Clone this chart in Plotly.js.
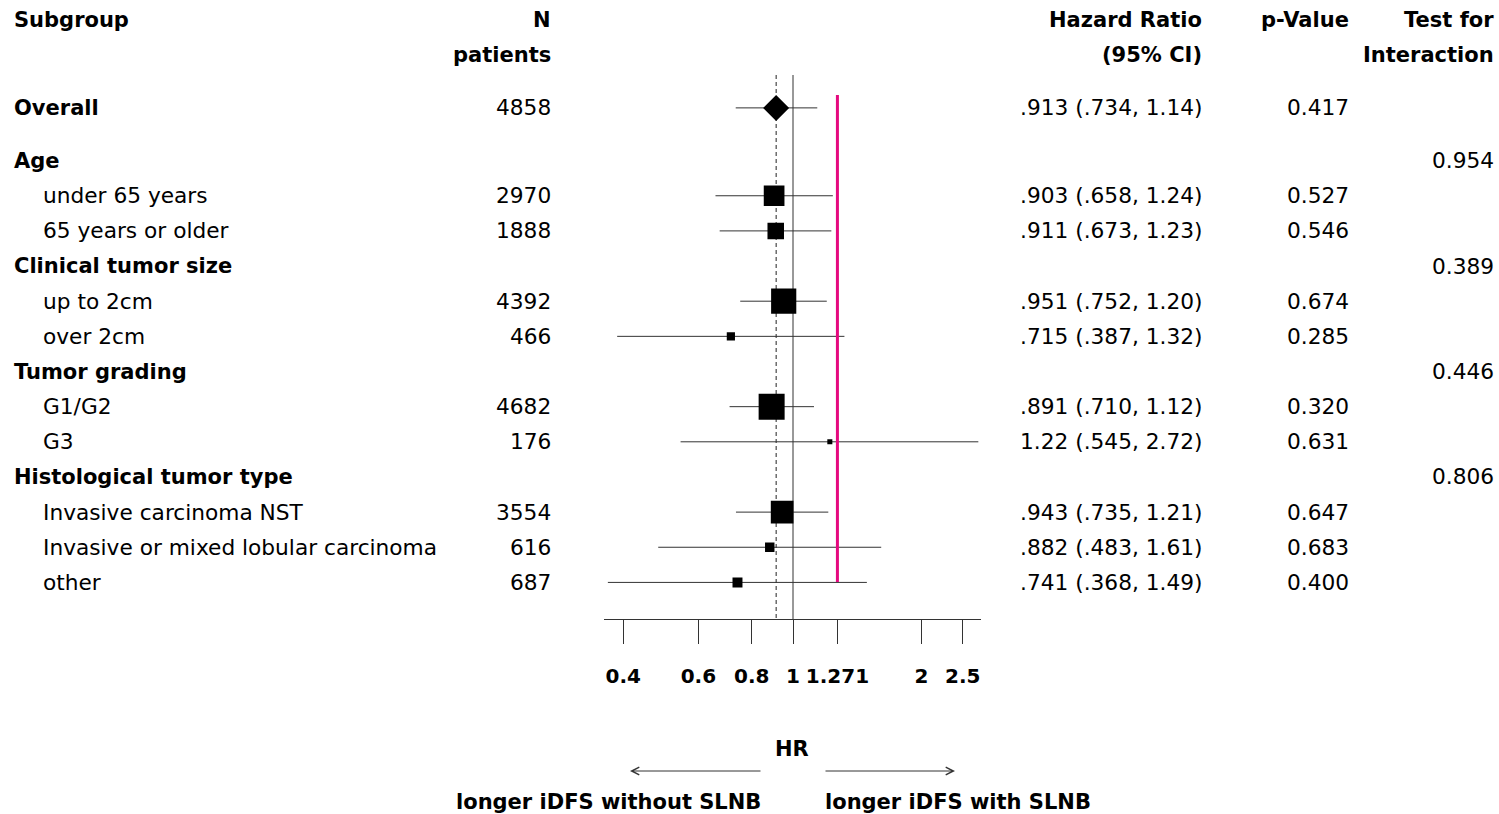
<!DOCTYPE html>
<html>
<head>
<meta charset="utf-8">
<script src="https://cdn.plot.ly/plotly-3.0.1.min.js"></script>
<style>
html, body { margin: 0; padding: 0; background: #ffffff; }
#chart { width: 1499px; height: 814px; }
</style>
</head>
<body>
<div id="chart"></div>
<script>
// ---------------- DATA ----------------
const subgroups = [
  'Overall',
  'Age', 'under 65 years', '65 years or older',
  'Clinical tumor size', 'up to 2cm', 'over 2cm',
  'Tumor grading', 'G1/G2', 'G3',
  'Histological tumor type', 'Invasive carcinoma NST', 'Invasive or mixed lobular carcinoma', 'other'
];
const isTopLevel = [true, true, false, false, true, false, false, true, false, false, true, false, false, false];
const nPatients = [4858, null, 2970, 1888, null, 4392, 466, null, 4682, 176, null, 3554, 616, 687];
const hazardRatio = [0.913, null, 0.903, 0.911, null, 0.951, 0.715, null, 0.891, 1.22, null, 0.943, 0.882, 0.741];
const ciLower = [0.734, null, 0.658, 0.673, null, 0.752, 0.387, null, 0.710, 0.545, null, 0.735, 0.483, 0.368];
const ciUpper = [1.14, null, 1.24, 1.23, null, 1.20, 1.32, null, 1.12, 2.72, null, 1.21, 1.61, 1.49];
const pValue = [0.417, null, 0.527, 0.546, null, 0.674, 0.285, null, 0.320, 0.631, null, 0.647, 0.683, 0.400];
const interactionP = [null, 0.954, null, null, 0.389, null, null, 0.446, null, null, 0.806, null, null, null];
const tickValues = [0.4, 0.6, 0.8, 1, 1.271, 2, 2.5];
const tickLabels = ['0.4', '0.6', '0.8', '1', '1.271', '2', '2.5'];
const marginHR = 1.271;

// ---------------- LAYOUT HELPERS ----------------
const W = 1499, H = 814;
const FONT = 'DejaVu Sans, Liberation Sans, Arial, sans-serif';
const FS_REG = 21.7;
const FS_BOLD = 21;
const rowPos = i => (i === 0 ? 2.5 : 3 + i);
const Y_TOP = -0.569, Y_BOTTOM = 17.041;
const px = v => v / W;
const py = v => (H - v) / H;

function fmtHR(v) {
  return v < 1 ? v.toFixed(3).replace(/^0/, '') : v.toFixed(2);
}

const annotations = [];
function addText(xPix, yVal, text, anchor, bold, yref) {
  annotations.push({
    xref: 'paper', yref: yref || 'y', x: px(xPix), y: yVal,
    text: text, showarrow: false, xanchor: anchor, yanchor: 'middle',
    borderpad: 0, borderwidth: 0,
    font: { family: FONT, size: bold ? FS_BOLD : FS_REG, color: '#000', weight: bold ? 'bold' : 'normal' }
  });
}

// column headers
addText(14, 0, 'Subgroup', 'left', true);
addText(551, 0, 'N', 'right', true);
addText(551, 1, 'patients', 'right', true);
addText(1202, 0, 'Hazard Ratio', 'right', true);
addText(1202, 1, '(95% CI)', 'right', true);
addText(1349, 0, 'p-Value', 'right', true);
addText(1494, 0, 'Test for', 'right', true);
addText(1494, 1, 'Interaction', 'right', true);

// rows
subgroups.forEach((s, i) => {
  const r = rowPos(i);
  addText(isTopLevel[i] ? 14 : 43, r, s, 'left', isTopLevel[i]);
  if (nPatients[i] != null) addText(551, r, String(nPatients[i]), 'right', false);
  if (hazardRatio[i] != null) {
    addText(1202, r, fmtHR(hazardRatio[i]) + ' (' + fmtHR(ciLower[i]) + ', ' + fmtHR(ciUpper[i]) + ')', 'right', false);
  }
  if (pValue[i] != null) addText(1349, r, pValue[i].toFixed(3), 'right', false);
  if (interactionP[i] != null) addText(1494, r, interactionP[i].toFixed(3), 'right', false);
});

// bottom labels
addText(792, py(749), 'HR', 'center', true, 'paper');
addText(761, py(802), 'longer iDFS without SLNB', 'right', true, 'paper');
addText(825, py(802), 'longer iDFS with SLNB', 'left', true, 'paper');
annotations.push({
  xref: 'paper', yref: 'paper', x: px(630), y: py(771), ax: 132, ay: 0,
  text: '', showarrow: true, arrowhead: 5, arrowsize: 1.5, arrowwidth: 1, arrowcolor: '#333'
});
annotations.push({
  xref: 'paper', yref: 'paper', x: px(955), y: py(771), ax: -131, ay: 0,
  text: '', showarrow: true, arrowhead: 5, arrowsize: 1.5, arrowwidth: 1, arrowcolor: '#333'
});

// ---------------- TRACES ----------------
const subIdx = hazardRatio.map((v, i) => i).filter(i => i > 0 && hazardRatio[i] != null);

const subTrace = {
  type: 'scatter', mode: 'markers',
  x: subIdx.map(i => hazardRatio[i]),
  y: subIdx.map(i => rowPos(i)),
  marker: { symbol: 'square', color: '#000', opacity: 1, size: subIdx.map(i => 0.38 * Math.sqrt(nPatients[i])), line: { width: 0 } },
  error_x: {
    type: 'data', symmetric: false,
    array: subIdx.map(i => ciUpper[i] - hazardRatio[i]),
    arrayminus: subIdx.map(i => hazardRatio[i] - ciLower[i]),
    color: '#333', thickness: 1, width: 0
  },
  hoverinfo: 'skip', showlegend: false
};

const overallTrace = {
  type: 'scatter', mode: 'markers',
  x: [hazardRatio[0]], y: [rowPos(0)],
  marker: { symbol: 'diamond', color: '#000', opacity: 1, size: 20, line: { width: 0 } },
  error_x: {
    type: 'data', symmetric: false,
    array: [ciUpper[0] - hazardRatio[0]],
    arrayminus: [hazardRatio[0] - ciLower[0]],
    color: '#333', thickness: 1, width: 0
  },
  hoverinfo: 'skip', showlegend: false
};

// ---------------- LAYOUT ----------------
const layout = {
  width: W, height: H,
  margin: { l: 0, r: 0, t: 0, b: 0, pad: 0 },
  paper_bgcolor: '#fff', plot_bgcolor: '#fff',
  showlegend: false,
  xaxis: {
    type: 'log',
    domain: [px(604.3), px(980.7)],
    range: [Math.log10(0.361), Math.log10(2.755)],
    tickvals: tickValues, ticktext: tickLabels,
    ticks: 'outside', ticklen: 24, tickwidth: 1, tickcolor: '#333',
    showline: true, linecolor: '#333', linewidth: 1,
    showgrid: false, zeroline: false,
    ticklabelstandoff: 15,
    tickfont: { family: FONT, size: 20, color: '#000', weight: 'bold' },
    fixedrange: true
  },
  yaxis: {
    domain: [(H - 619) / H, 1],
    range: [Y_BOTTOM, Y_TOP],
    visible: false, showgrid: false, zeroline: false, fixedrange: true
  },
  shapes: [
    { type: 'line', xref: 'x', yref: 'y', x0: 1, x1: 1, y0: 1.565, y1: Y_BOTTOM,
      line: { color: '#333', width: 1 }, layer: 'below' },
    { type: 'line', xref: 'x', yref: 'y', x0: hazardRatio[0], x1: hazardRatio[0], y0: 1.565, y1: Y_BOTTOM,
      line: { color: '#222', width: 1, dash: '4px,3px' }, layer: 'below' },
    { type: 'line', xref: 'x', yref: 'y', x0: marginHR, x1: marginHR, y0: 2.134, y1: 15.99,
      line: { color: '#e5097f', width: 3 }, layer: 'above' }
  ],
  annotations: annotations
};

Plotly.newPlot('chart', [subTrace, overallTrace], layout, { displayModeBar: false, staticPlot: true });
</script>
</body>
</html>
